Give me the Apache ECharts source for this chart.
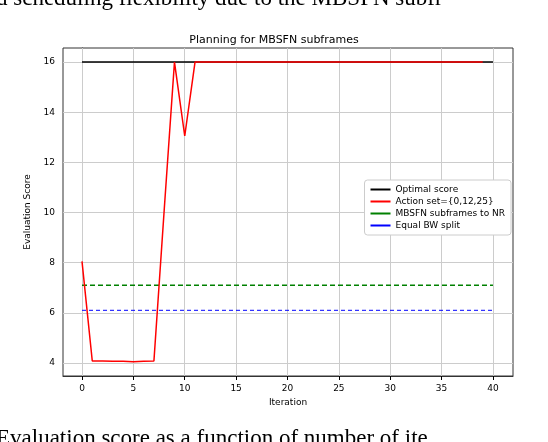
<!DOCTYPE html>
<html><head><meta charset="utf-8">
<script src="https://cdn.jsdelivr.net/npm/echarts@6/dist/echarts.min.js"></script>
<style>body{margin:0;background:#fff}#c{width:548px;height:442px}</style></head>
<body><div id="c"></div>
<script>
const iterations = Array.from({length:41},(_,i)=>i);
const optimal = [[0,16],[40,16]];
const actionSet = [8.05,4.08,4.08,4.07,4.07,4.05,4.07,4.08,10.1,16,13.05,16,16,16,16,16,16,16,16,16,16,16,16,16,16,16,16,16,16,16,16,16,16,16,16,16,16,16,16,16];
const mbsfnNR = [[0,7.1],[40,7.1]];
const equalBW = [[0,6.1],[40,6.1]];
const xTicks = [0,5,10,15,20,25,30,35,40];
const yTicks = [4,6,8,10,12,14,16];
const chart = echarts.init(document.getElementById('c'));
const ff = 'DejaVu Sans';
chart.setOption({
  animation:false,
  title:{text:'Planning for MBSFN subframes',left:'center',top:30,textStyle:{fontFamily:ff,fontSize:11,fontWeight:'normal',color:'#000'}},
  graphic:[
    {type:'text',left:-4,top:-13,style:{text:'d scheduling flexibility due to the MBSFN subfr',font:'23px "Liberation Serif"',fill:'#000'}},
    {type:'text',left:-4,top:427,style:{text:'Evaluation score as a function of number of ite',font:'23px "Liberation Serif"',fill:'#000'}}
  ],
  grid:{left:63,right:35,top:48,bottom:66,show:true,borderColor:'#333',borderWidth:1},
  legend:{right:37,top:180,orient:'vertical',backgroundColor:'#fff',borderColor:'#ccc',borderWidth:1,borderRadius:3,padding:[5,6],itemGap:3,itemWidth:20,itemHeight:2,icon:'rect',
    textStyle:{fontFamily:ff,fontSize:9,color:'#000'},
    data:['Optimal score','Action set={0,12,25}','MBSFN subframes to NR','Equal BW split']},
  xAxis:{type:'value',min:-1.85,max:41.95,interval:5,
    axisLabel:{fontFamily:ff,fontSize:9,color:'#000',customValues:xTicks,formatter:v=>v},
    axisTick:{customValues:xTicks,length:4,lineStyle:{color:'#000'}},
    splitLine:{show:false},
    axisLine:{show:true,lineStyle:{color:'#333'}},
    name:'Iteration',nameLocation:'middle',nameGap:20,nameTextStyle:{fontFamily:ff,fontSize:9,color:'#000'}},
  yAxis:{type:'value',min:3.48,max:16.56,
    axisLabel:{fontFamily:ff,fontSize:9,color:'#000',customValues:yTicks,formatter:v=>v},
    axisTick:{show:true,customValues:yTicks,length:4,lineStyle:{color:'#000'}},
    splitLine:{show:false},
    axisLine:{show:true,lineStyle:{color:'#333'}},
    name:'Evaluation Score',nameLocation:'middle',nameGap:26,nameTextStyle:{fontFamily:ff,fontSize:9,color:'#000'}},
  series:[
    {name:'grid',type:'line',data:[],silent:true,z:1,
      markLine:{symbol:'none',silent:true,z:1,label:{show:false},lineStyle:{color:'#ccc',type:'solid',width:1},
        data:xTicks.map(v=>({xAxis:v})).concat(yTicks.map(v=>({yAxis:v})))}},
    {name:'Optimal score',type:'line',z:3,data:optimal,symbol:'none',lineStyle:{color:'#000',width:1.5},itemStyle:{color:'#000'}},
    {name:'Action set={0,12,25}',type:'line',z:5,data:actionSet.map((v,i)=>[iterations[i],v]),symbol:'none',lineStyle:{color:'#ff0000',width:1.5},itemStyle:{color:'#ff0000'}},
    {name:'MBSFN subframes to NR',type:'line',z:3,data:mbsfnNR,symbol:'none',lineStyle:{color:'#008000',width:1.5,type:[5,3]},itemStyle:{color:'#008000'}},
    {name:'Equal BW split',type:'line',z:3,data:equalBW,symbol:'none',lineStyle:{color:'#0000ff',width:1,type:[4,3]},itemStyle:{color:'#0000ff'}}
  ]
});
</script></body></html>
